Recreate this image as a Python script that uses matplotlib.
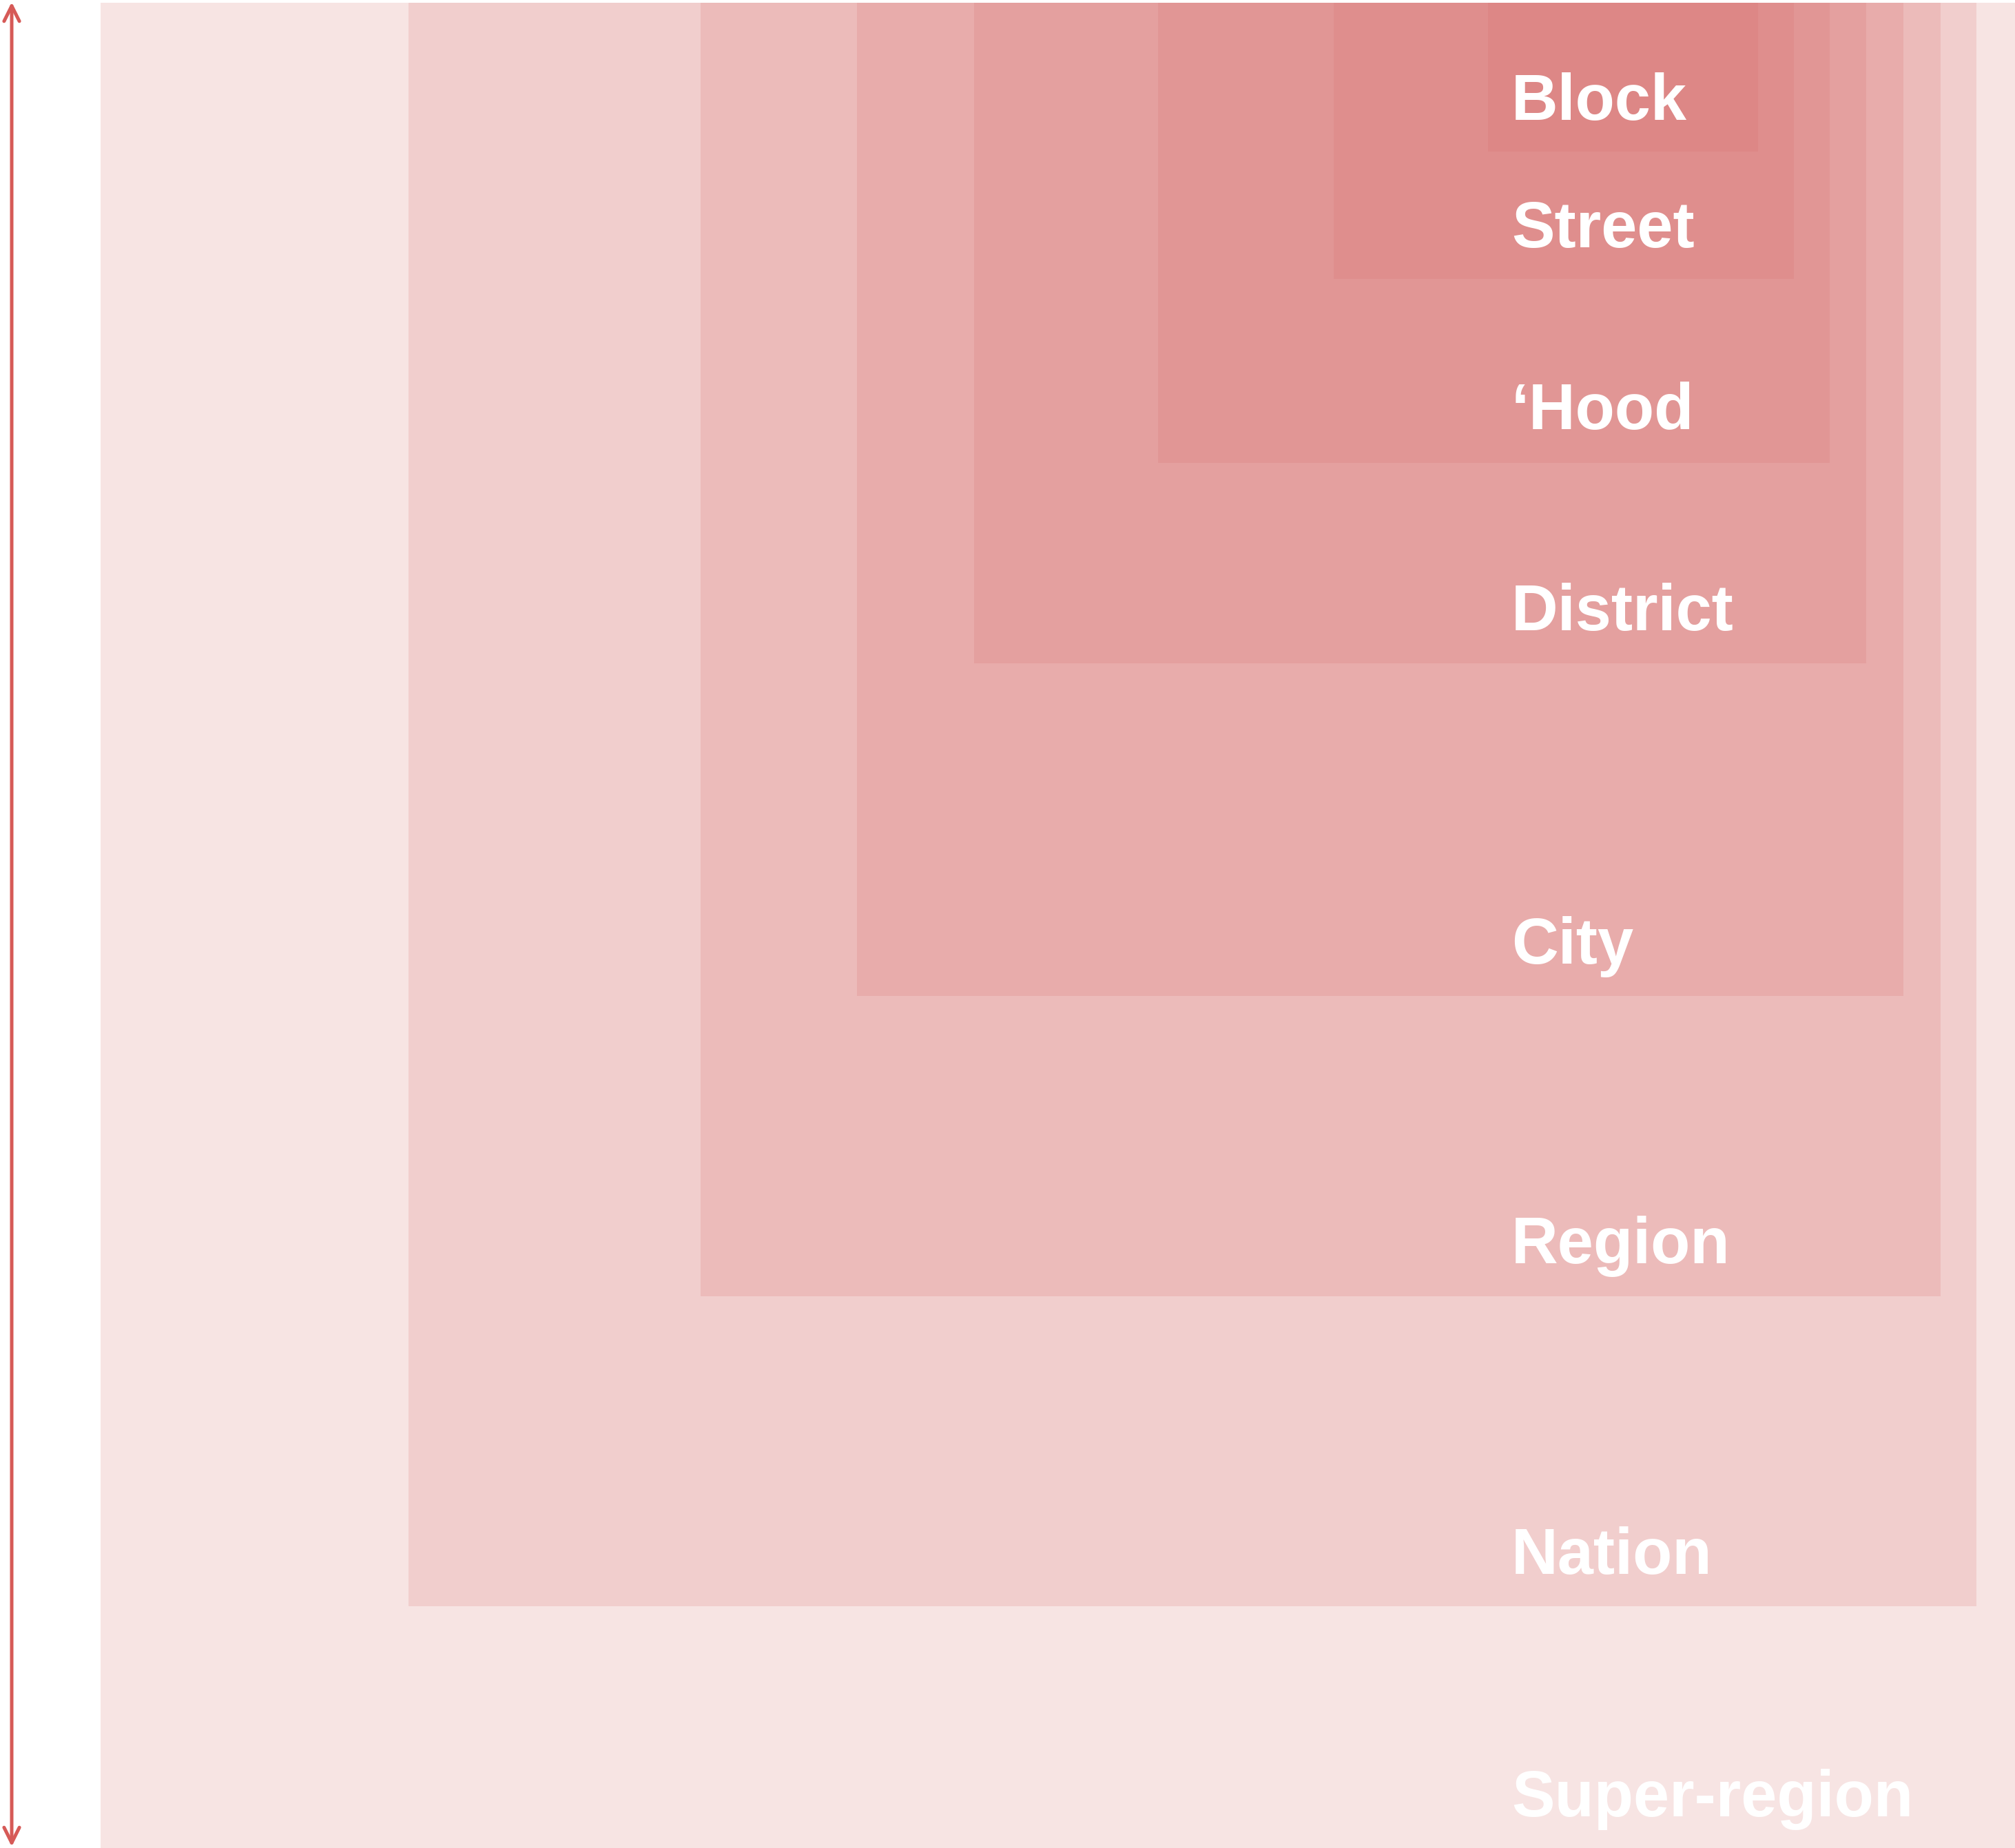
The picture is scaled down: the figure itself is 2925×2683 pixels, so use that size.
import matplotlib
matplotlib.use("Agg")
import matplotlib.pyplot as plt
from matplotlib.patches import Rectangle

# Nested geographic scales (outermost first); extents in image-pixel units
levels = ["Super-region", "Nation", "Region", "City", "District", "\u2018Hood", "Street", "Block"]
left_edge = [146, 593, 1017, 1244, 1414, 1681, 1936, 2160]
right_edge = [2925, 2869, 2817, 2763, 2709, 2656, 2604, 2552]
bottom_edge = [2683, 2332, 1882, 1446, 963, 672, 405, 220]
top_edge = [4, 4, 4, 4, 4, 4, 4, 4]
label_baseline = [2637, 2285, 1834, 1399, 915, 623, 359, 174]
label_x = 2194

W, H = 2925, 2683
fig = plt.figure(figsize=(W / 100, H / 100), dpi=100)
ax = fig.add_axes([0, 0, 1, 1])
ax.set_xlim(0, W)
ax.set_ylim(H, 0)
ax.axis("off")

base = "#d66a69"
for l, r, t, b in zip(left_edge, right_edge, top_edge, bottom_edge):
    ax.add_patch(Rectangle((l, t), r - l, b - t, facecolor=base, alpha=0.18,
                           edgecolor="none", linewidth=0))

for name, y in zip(levels, label_baseline):
    ax.text(label_x, y, name, color="white", fontsize=67.5, fontweight="bold",
            family=["Liberation Sans", "DejaVu Sans"], ha="left", va="baseline")

ax.annotate("", xy=(17, 3), xytext=(17, H - 2),
            arrowprops=dict(arrowstyle="<->", color="#d65a57", lw=3.6,
                            mutation_scale=40, shrinkA=0, shrinkB=0))

fig.savefig("out.png", dpi=100)
